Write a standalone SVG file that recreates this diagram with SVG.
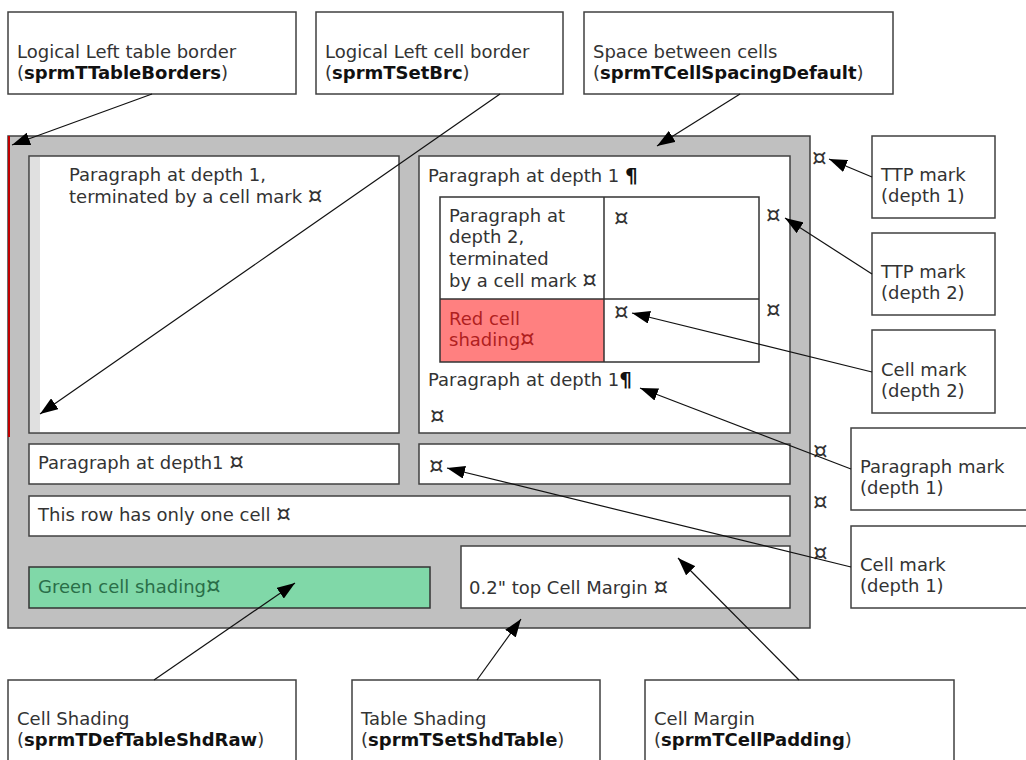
<svg xmlns="http://www.w3.org/2000/svg" width="1026" height="760" viewBox="0 0 1026 760">
<defs>
<style>
text{font-family:"DejaVu Sans",Verdana,sans-serif;font-size:18px;fill:#333}
.b{font-weight:bold;fill:#111}
.m{font-size:23px}
.p{font-weight:bold;fill:#111;font-size:20px}
.box{fill:#fff;stroke:#404040;stroke-width:1.5}
.cell{fill:#fff;stroke:#404040;stroke-width:1.5}
.conn{stroke:#111;stroke-width:1.2;fill:none;marker-end:url(#ah)}
</style>
<marker id="ah" markerUnits="userSpaceOnUse" markerWidth="19" markerHeight="13" refX="18" refY="6.5" orient="auto">
<path d="M0,0 L18,6.5 L0,13 z" fill="#000"/>
</marker>
</defs>
<rect width="1026" height="760" fill="#fff"/>

<g id="table">
<rect x="8" y="136" width="802" height="492" fill="#c0c0c0" stroke="#404040" stroke-width="1.5"/>
<line x1="9" y1="136" x2="9" y2="437" stroke="#c00000" stroke-width="2"/>
</g>

<g id="cellA">
<rect class="cell" x="29" y="156" width="370" height="277"/>
<rect x="30" y="157" width="10" height="275" fill="#e0e0e0"/>
<text x="69" y="181">Paragraph at depth 1,</text>
<text x="69" y="203">terminated by a cell mark <tspan class="m">¤</tspan></text>
</g>

<g id="cellB">
<rect class="cell" x="419" y="156" width="371" height="277"/>
<text x="428" y="182">Paragraph at depth 1 <tspan class="p">¶</tspan></text>
<text x="428" y="386">Paragraph at depth 1<tspan class="p">¶</tspan></text>
<text x="430" y="423" class="m">¤</text>
</g>

<g id="nested">
<rect x="440" y="299" width="164" height="63" fill="#ff8080"/>
<rect x="440" y="197" width="319" height="165" fill="none" stroke="#333" stroke-width="1.5"/>
<line x1="604" y1="197" x2="604" y2="362" stroke="#333" stroke-width="1.5"/>
<line x1="440" y1="299" x2="759" y2="299" stroke="#333" stroke-width="1.5"/>
<text x="449" y="222">Paragraph at</text>
<text x="449" y="243">depth 2,</text>
<text x="449" y="265">terminated</text>
<text x="449" y="287">by a cell mark <tspan class="m">¤</tspan></text>
<text x="449" y="325" style="fill:#b02020">Red cell</text>
<text x="449" y="346" style="fill:#b02020">shading<tspan class="m">¤</tspan></text>
<text x="614" y="225" class="m">¤</text>
<text x="614" y="319" class="m">¤</text>
<text x="766" y="222" class="m">¤</text>
<text x="766" y="317" class="m">¤</text>
</g>

<g id="row2">
<rect class="cell" x="29" y="444" width="370" height="40"/>
<text x="38" y="469">Paragraph at depth1 <tspan class="m">¤</tspan></text>
<rect class="cell" x="419" y="444" width="371" height="40"/>
<text x="429" y="473" class="m">¤</text>
</g>

<g id="row3">
<rect class="cell" x="29" y="496" width="761" height="40"/>
<text x="38" y="521">This row has only one cell <tspan class="m">¤</tspan></text>
</g>

<g id="row4">
<rect x="29" y="567" width="401" height="41" fill="#80d8a8" stroke="#333" stroke-width="1.5"/>
<text x="38" y="593" style="fill:#2a6e48">Green cell shading<tspan class="m">¤</tspan></text>
<rect class="cell" x="461" y="546" width="329" height="62"/>
<text x="469" y="594">0.2" top Cell Margin <tspan class="m">¤</tspan></text>
</g>

<g id="rowmarks">
<text x="812" y="165" class="m">¤</text>
<text x="813" y="458" class="m">¤</text>
<text x="813" y="509" class="m">¤</text>
<text x="813" y="560" class="m">¤</text>
</g>

<g id="c-tableborders">
<rect class="box" x="8" y="12" width="288" height="82"/>
<text x="17" y="58">Logical Left table border</text>
<text x="17" y="79">(<tspan class="b">sprmTTableBorders</tspan>)</text>
</g>
<g id="c-setbrc">
<rect class="box" x="316" y="12" width="247" height="82"/>
<text x="325" y="58">Logical Left cell border</text>
<text x="325" y="79">(<tspan class="b">sprmTSetBrc</tspan>)</text>
</g>
<g id="c-cellspacing">
<rect class="box" x="584" y="12" width="309" height="82"/>
<text x="593" y="58">Space between cells</text>
<text x="593" y="79">(<tspan class="b">sprmTCellSpacingDefault</tspan>)</text>
</g>
<g id="c-ttp1">
<rect class="box" x="872" y="136" width="123" height="82"/>
<text x="881" y="181">TTP mark</text>
<text x="881" y="202">(depth 1)</text>
</g>
<g id="c-ttp2">
<rect class="box" x="872" y="233" width="123" height="82"/>
<text x="881" y="278">TTP mark</text>
<text x="881" y="299">(depth 2)</text>
</g>
<g id="c-cellmark2">
<rect class="box" x="872" y="330" width="123" height="83"/>
<text x="881" y="376">Cell mark</text>
<text x="881" y="397">(depth 2)</text>
</g>
<g id="c-paramark1">
<rect class="box" x="851" y="428" width="180" height="82"/>
<text x="860" y="473">Paragraph mark</text>
<text x="860" y="494">(depth 1)</text>
</g>
<g id="c-cellmark1">
<rect class="box" x="851" y="526" width="180" height="82"/>
<text x="860" y="571">Cell mark</text>
<text x="860" y="592">(depth 1)</text>
</g>
<g id="c-cellshading">
<rect class="box" x="8" y="680" width="288" height="90"/>
<text x="17" y="725">Cell Shading</text>
<text x="17" y="746">(<tspan class="b">sprmTDefTableShdRaw</tspan>)</text>
</g>
<g id="c-tableshading">
<rect class="box" x="352" y="680" width="248" height="90"/>
<text x="361" y="725">Table Shading</text>
<text x="361" y="746">(<tspan class="b">sprmTSetShdTable</tspan>)</text>
</g>
<g id="c-cellmargin">
<rect class="box" x="645" y="680" width="309" height="90"/>
<text x="654" y="725">Cell Margin</text>
<text x="654" y="746">(<tspan class="b">sprmTCellPadding</tspan>)</text>
</g>

<g id="connectors">
<line class="conn" x1="152" y1="94" x2="12" y2="145"/>
<line class="conn" x1="500" y1="94" x2="40" y2="414"/>
<line class="conn" x1="740" y1="94" x2="657" y2="146"/>
<line class="conn" x1="872" y1="177" x2="829" y2="159"/>
<line class="conn" x1="872" y1="274" x2="785" y2="218"/>
<line class="conn" x1="872" y1="372" x2="632" y2="313"/>
<line class="conn" x1="851" y1="469" x2="640" y2="388"/>
<line class="conn" x1="851" y1="567" x2="447" y2="468"/>
<line class="conn" x1="154" y1="680" x2="295" y2="583"/>
<line class="conn" x1="477" y1="680" x2="521" y2="619"/>
<line class="conn" x1="799" y1="680" x2="678" y2="558"/>
</g>
</svg>
